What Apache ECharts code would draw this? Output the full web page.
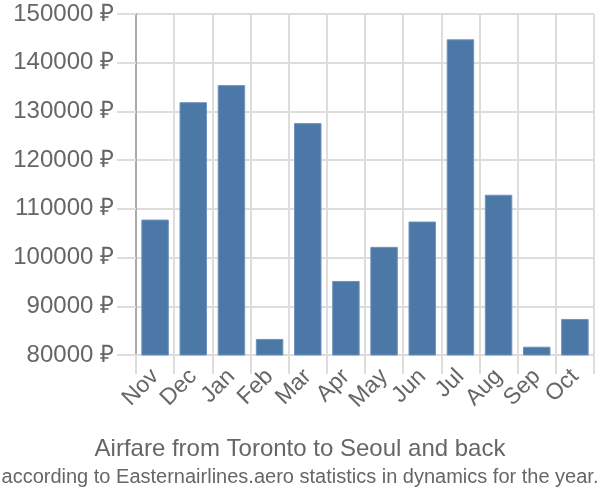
<!DOCTYPE html>
<html><head><meta charset="utf-8">
<script src="https://cdn.jsdelivr.net/npm/echarts@6/dist/echarts.min.js"></script>
<style>html,body{margin:0;padding:0;background:#fff}#c{width:600px;height:500px}</style>
</head><body><div id="c"></div>
<script>
const categories = ['Nov','Dec','Jan','Feb','Mar','Apr','May','Jun','Jul','Aug','Sep','Oct'];
const prices = [107800,131900,135400,83300,127600,95200,102200,107400,144800,112900,81700,87400];
const titleText = 'Airfare from Toronto to Seoul and back';
const subtitleText = 'according to Easternairlines.aero statistics in dynamics for the year.';

const chart = echarts.init(document.getElementById('c'));
chart.setOption({
  animation: false,
  title: {
    text: titleText,
    subtext: subtitleText,
    left: 'center',
    top: 432,
    itemGap: 6,
    textStyle: {fontFamily: 'Liberation Sans', fontSize: 24, fontWeight: 'normal', color: '#666'},
    subtextStyle: {fontFamily: 'Liberation Sans', fontSize: 20, color: '#666'}
  },
  grid: {left: 136, right: 6, top: 14, bottom: 145, containLabel: false},
  xAxis: {
    type: 'category',
    data: categories,
    axisLine: {show: true, lineStyle: {color: '#ddd', width: 2}},
    axisTick: {show: true, length: 19, alignWithLabel: false, interval: 0, lineStyle: {color: '#ddd', width: 2}},
    splitLine: {show: true, interval: 0, lineStyle: {color: '#ddd', width: 2}},
    axisLabel: {rotate: 45, interval: 0, fontFamily: 'Liberation Sans', fontSize: 23, color: '#666', margin: 18}
  },
  yAxis: {
    type: 'value',
    min: 80000, max: 150000, interval: 10000,
    axisLine: {show: true, lineStyle: {color: '#aaa', width: 2}},
    axisTick: {show: true, length: 19, lineStyle: {color: '#ddd', width: 2}},
    splitLine: {show: true, lineStyle: {color: '#ddd', width: 2}},
    axisLabel: {fontFamily: 'Liberation Sans', fontSize: 24, color: '#666', margin: 22,
      formatter: v => v + ' ₽'}
  },
  series: [{
    type: 'bar',
    data: prices,
    barWidth: '72%',
    itemStyle: {color: '#4c78a8', borderColor: '#6f93bd', borderWidth: 1}
  }]
});
</script></body></html>
